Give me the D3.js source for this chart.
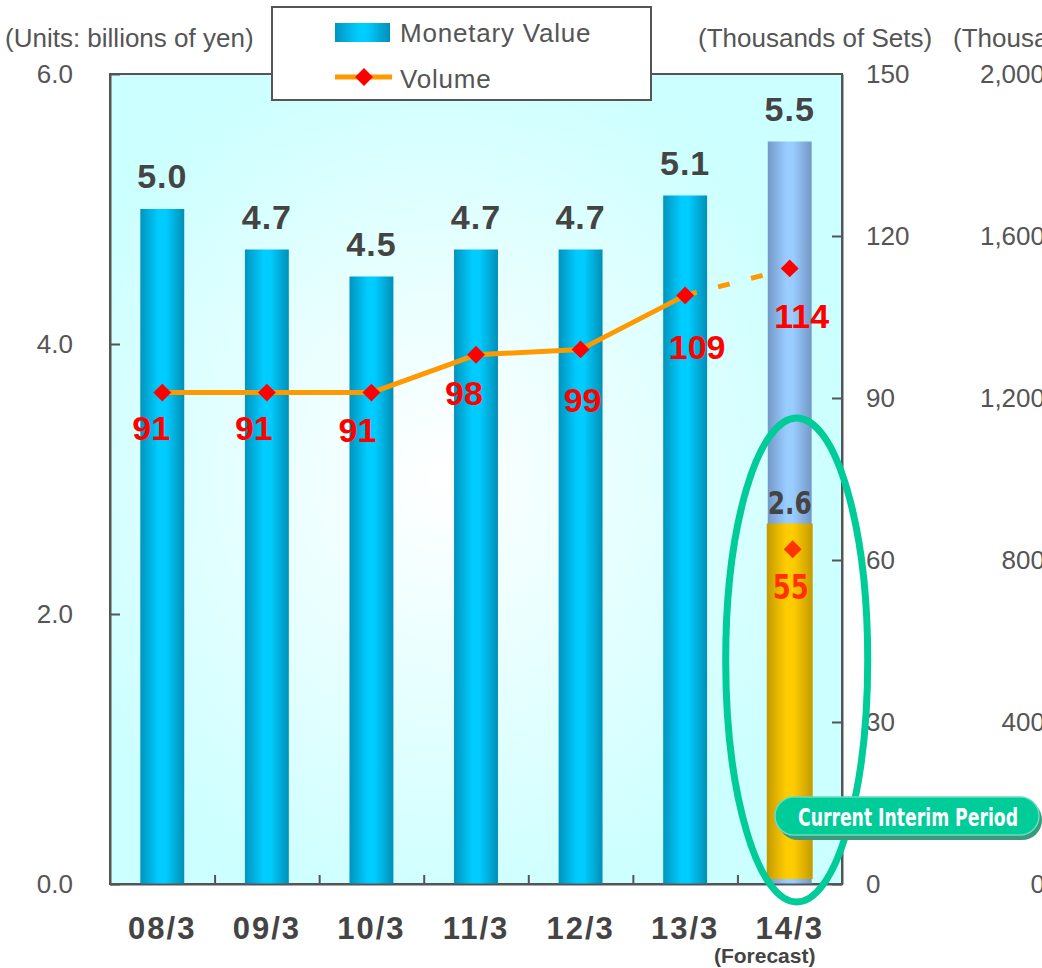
<!DOCTYPE html>
<html>
<head>
<meta charset="utf-8">
<script src="https://cdn.jsdelivr.net/npm/d3@7"></script>
<style>
	html, body { margin: 0; padding: 0; background: #fff; }
	svg { display: block; font-family: "Liberation Sans", Arial, sans-serif; }
	.narrow { font-family: "Liberation Sans Narrow", "DejaVu Sans Condensed", "Liberation Sans", sans-serif; font-stretch: condensed; }
</style>
</head>
<body>
<div id="chart"></div>
<script>
// data
const categories = ["08/3", "09/3", "10/3", "11/3", "12/3", "13/3", "14/3"];
const monetaryValue = [5.0, 4.7, 4.5, 4.7, 4.7, 5.1, 5.5];   // billions of yen, last is forecast
const volume = [91, 91, 91, 98, 99, 109, 114];              // thousands of sets
const interimValue = [2.67];
const interimValueLabel = ["2.6"];
const interimVolume = [62];
const interimVolumeLabel = ["55"];
const leftTicks = [0, 2, 4, 6];
const rightTicks = [0, 30, 60, 90, 120, 150];
const farTicks = [0, 400, 800, 1200, 1600, 2000];
// label nudges (px) for the volume numbers
const volLabelDx = [-11, -13, -14, -12, 2, 12, 12];
const volLabelDy = [47, 47, 49, 50, 63, 64, 60];

const W = 1042, H = 968;
const plot = { left: 110, right: 842, top: 74, bottom: 884 };
const forecastIdx = categories.length - 1;

const svg = d3.select('#chart').append('svg')
	.attr('width', W).attr('height', H);

const defs = svg.append('defs');

function hGrad(id, edgeL, mid, edgeR) {
	const g = defs.append('linearGradient').attr('id', id)
		.attr('x1', '0%').attr('x2', '100%').attr('y1', '0%').attr('y2', '0%');
	g.append('stop').attr('offset', '0%').attr('stop-color', edgeL);
	g.append('stop').attr('offset', '42%').attr('stop-color', mid);
	g.append('stop').attr('offset', '58%').attr('stop-color', mid);
	g.append('stop').attr('offset', '100%').attr('stop-color', edgeR);
}
hGrad('bar-grad', '#0094be', '#00ccff', '#008fb6');
hGrad('fc-grad', '#7598c8', '#99ccff', '#7398c6');
hGrad('gold-grad', '#c49a00', '#ffcc00', '#c49a00');

const bg = defs.append('radialGradient').attr('id', 'bg-grad')
	.attr('cx', '0.45').attr('cy', '0.5').attr('r', '0.55');
bg.append('stop').attr('offset', '0%').attr('stop-color', '#ffffff');
bg.append('stop').attr('offset', '100%').attr('stop-color', '#ccffff');

// scales
const x = d3.scaleBand().domain(categories)
	.range([plot.left, plot.right]).paddingInner(0.58).paddingOuter(0.29);
const xEdge = d3.scaleLinear().domain([0, categories.length]).range([plot.left, plot.right]);
const yL = d3.scaleLinear().domain([0, 6]).range([plot.bottom, plot.top]);
const yR = d3.scaleLinear().domain([0, 150]).range([plot.bottom, plot.top]);
const yF = d3.scaleLinear().domain([0, 2000]).range([plot.bottom, plot.top]);
const cx = (c) => x(c) + x.bandwidth() / 2;

// plot background
svg.append('rect')
	.attr('x', plot.left).attr('y', plot.top)
	.attr('width', plot.right - plot.left).attr('height', plot.bottom - plot.top)
	.attr('fill', 'url(#bg-grad)')
	.attr('stroke', '#555').attr('stroke-width', 2);

// bars
const barData = categories.map((c, i) => ({ c, v: monetaryValue[i], i }));
svg.append('g').selectAll('rect')
	.data(barData)
	.join('rect')
	.attr('x', d => x(d.c))
	.attr('y', d => yL(d.v))
	.attr('width', x.bandwidth())
	.attr('height', d => yL(0) - yL(d.v))
	.attr('fill', d => d.i === forecastIdx ? 'url(#fc-grad)' : 'url(#bar-grad)');

// interim (gold) part of forecast bar
svg.append('g').selectAll('rect')
	.data(interimValue)
	.join('rect')
	.attr('x', x(categories[forecastIdx]) - 1)
	.attr('y', d => yL(d))
	.attr('width', x.bandwidth() + 2)
	.attr('height', d => yL(0) - yL(d) - 5)
	.attr('fill', 'url(#gold-grad)');

// bar value labels
svg.append('g').selectAll('text')
	.data(barData)
	.join('text')
	.attr('x', d => cx(d.c))
	.attr('y', d => yL(d.v) - 21)
	.attr('text-anchor', 'middle')
	.attr('font-size', 34).attr('font-weight', 'bold')
	.attr('letter-spacing', 1)
	.attr('fill', '#444')
	.text(d => d.v.toFixed(1));

svg.append('g').selectAll('text')
	.data(interimValue)
	.join('text')
	.attr('class', 'narrow')
	.attr('x', cx(categories[forecastIdx]))
	.attr('y', d => yL(d) - 10)
	.attr('text-anchor', 'middle')
	.attr('font-size', 32).attr('font-weight', 'bold')
	.attr('textLength', 44).attr('lengthAdjust', 'spacingAndGlyphs')
	.attr('fill', '#444')
	.text((d, i) => interimValueLabel[i]);

// volume line
const pts = categories.map((c, i) => ({ c, v: volume[i], i }));
const line = d3.line().x(d => cx(d.c)).y(d => yR(d.v));

svg.append('path')
	.datum(pts.slice(0, forecastIdx))
	.attr('fill', 'none')
	.attr('stroke', '#ff9900')
	.attr('stroke-width', 5)
	.attr('stroke-linejoin', 'round')
	.attr('d', line);

svg.append('path')
	.datum(pts.slice(forecastIdx - 1))
	.attr('fill', 'none')
	.attr('stroke', '#ff9900')
	.attr('stroke-width', 5)
	.attr('stroke-dasharray', '12 22')
	.attr('d', line);

const diamond = d3.symbol(d3.symbolSquare, 160);

svg.append('g').selectAll('path')
	.data(pts)
	.join('path')
	.attr('d', diamond)
	.attr('transform', d => `translate(${cx(d.c)},${yR(d.v)}) rotate(45)`)
	.attr('fill', '#ff0000');

svg.append('g').selectAll('text')
	.data(pts)
	.join('text')
	.attr('x', d => cx(d.c) + volLabelDx[d.i])
	.attr('y', d => yR(d.v) + volLabelDy[d.i])
	.attr('text-anchor', 'middle')
	.attr('font-size', 34).attr('font-weight', 'bold')
	.attr('fill', '#ff0000')
	.text(d => d.v);

// interim volume
svg.append('g').selectAll('path')
	.data(interimVolume)
	.join('path')
	.attr('d', diamond)
	.attr('transform', d => `translate(${cx(categories[forecastIdx]) + 3},${yR(d)}) rotate(45)`)
	.attr('fill', '#ff3300');

svg.append('g').selectAll('text')
	.data(interimVolume)
	.join('text')
	.attr('class', 'narrow')
	.attr('x', cx(categories[forecastIdx]) + 1)
	.attr('y', d => yR(d) + 50)
	.attr('text-anchor', 'middle')
	.attr('font-size', 33).attr('font-weight', 'bold')
	.attr('textLength', 36).attr('lengthAdjust', 'spacingAndGlyphs')
	.attr('fill', '#ff3300')
	.text((d, i) => interimVolumeLabel[i]);

// axes
function styleAxis(g) {
	g.select('.domain').attr('stroke', '#555').attr('stroke-width', 2);
	g.selectAll('.tick line').attr('stroke', '#555').attr('stroke-width', 2);
	g.selectAll('.tick text').attr('fill', '#555')
		.attr('font-family', '"Liberation Sans", Arial, sans-serif');
}

svg.append('g')
	.attr('transform', `translate(${plot.left},0)`)
	.call(d3.axisLeft(yL).tickValues(leftTicks).tickSize(-10).tickPadding(37)
		.tickSizeOuter(0).tickFormat(d3.format('.1f')))
	.call(styleAxis)
	.selectAll('text').attr('font-size', 26);

svg.append('g')
	.attr('transform', `translate(${plot.right},0)`)
	.call(d3.axisRight(yR).tickValues(rightTicks).tickSize(-10).tickPadding(24).tickSizeOuter(0))
	.call(styleAxis)
	.call(g => g.selectAll('.tick').filter(d => d === 150).select('line').remove())
	.selectAll('text').attr('font-size', 26);

svg.append('g')
	.attr('transform', `translate(1045,0)`)
	.call(d3.axisLeft(yF).tickValues(farTicks).tickSize(0).tickPadding(0).tickFormat(d3.format(',')))
	.call(styleAxis)
	.call(g => g.select('.domain').remove())
	.selectAll('text').attr('font-size', 26);

// category axis
svg.append('g')
	.attr('transform', `translate(0,${plot.bottom})`)
	.call(d3.axisBottom(xEdge).tickValues(d3.range(1, categories.length)).tickSize(-9)
		.tickSizeOuter(0).tickFormat(''))
	.call(styleAxis);

svg.append('g')
	.attr('transform', `translate(0,${plot.bottom})`)
	.call(d3.axisBottom(x).tickSize(0))
	.call(g => g.select('.domain').remove())
	.call(styleAxis)
	.selectAll('text')
	.attr('y', 55).attr('dy', null)
	.attr('font-size', 31).attr('font-weight', 'bold')
	.attr('letter-spacing', 2)
	.attr('fill', '#444');

svg.append('text')
	.attr('x', cx(categories[forecastIdx]) - 25)
	.attr('y', 963)
	.attr('text-anchor', 'middle')
	.attr('font-size', 21).attr('font-weight', 'bold')
	.attr('fill', '#444')
	.text('(Forecast)');

// axis titles
const titleStyle = s => s.attr('font-size', 26).attr('fill', '#555');
svg.append('text').attr('x', 5).attr('y', 47).call(titleStyle).text('(Units: billions of yen)');
svg.append('text').attr('x', 698).attr('y', 47).call(titleStyle).text('(Thousands of Sets)');
svg.append('text').attr('x', 953).attr('y', 47).call(titleStyle).text('(Thousands)');

// legend
const legend = svg.append('g');
legend.append('rect')
	.attr('x', 272).attr('y', 7).attr('width', 379).attr('height', 93)
	.attr('fill', '#fff').attr('stroke', '#555').attr('stroke-width', 2);
legend.append('rect')
	.attr('x', 335).attr('y', 23).attr('width', 55).attr('height', 19)
	.attr('fill', 'url(#bar-grad)');
legend.append('line')
	.attr('x1', 335).attr('x2', 392).attr('y1', 77).attr('y2', 77)
	.attr('stroke', '#ff9900').attr('stroke-width', 5);
legend.append('path')
	.attr('d', diamond)
	.attr('transform', 'translate(364,77) rotate(45)')
	.attr('fill', '#ff0000');
legend.append('text').attr('x', 400).attr('y', 42)
	.attr('font-size', 26).attr('letter-spacing', 0.8).attr('fill', '#555')
	.text('Monetary Value');
legend.append('text').attr('x', 400).attr('y', 88)
	.attr('font-size', 26).attr('letter-spacing', 0.8).attr('fill', '#555')
	.text('Volume');

// highlight ellipse around forecast
svg.append('ellipse')
	.attr('cx', cx(categories[forecastIdx]) + 7).attr('cy', 660)
	.attr('rx', 71).attr('ry', 242)
	.attr('fill', 'none')
	.attr('stroke', '#00cc99').attr('stroke-width', 7);

// badge
const badge = svg.append('g');
badge.append('rect')
	.attr('x', 778).attr('y', 800).attr('width', 264).attr('height', 40).attr('rx', 20)
	.attr('fill', '#3c9a7c');
badge.append('rect')
	.attr('x', 775).attr('y', 797).attr('width', 264).attr('height', 38).attr('rx', 19)
	.attr('fill', '#00cc99')
	.attr('stroke', '#66ddbb').attr('stroke-width', 1.5);
badge.append('text')
	.attr('class', 'narrow')
	.attr('x', 798).attr('y', 826)
	.attr('font-size', 25).attr('font-weight', 'bold')
	.attr('textLength', 220).attr('lengthAdjust', 'spacingAndGlyphs')
	.attr('fill', '#fff')
	.text('Current Interim Period');
</script>
</body>
</html>
